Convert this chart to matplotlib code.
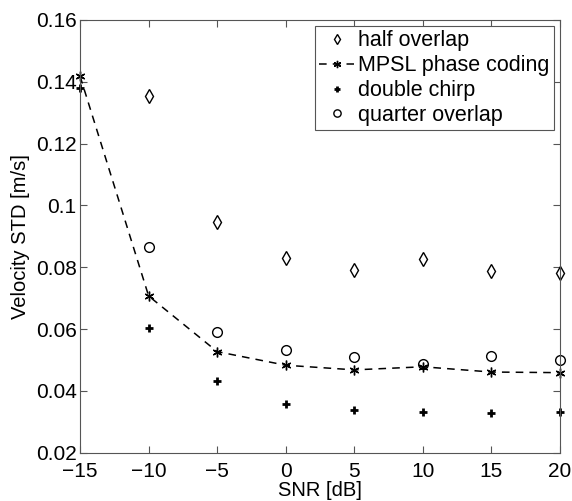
import numpy as np
import matplotlib
matplotlib.use('Agg')
import matplotlib.pyplot as plt

plt.rcParams['font.family'] = ['Liberation Sans', 'DejaVu Sans']

snr = [-15, -10, -5, 0, 5, 10, 15, 20]
half_overlap = [np.nan, 0.1355, 0.0947, 0.0829, 0.0791, 0.0826, 0.0789, 0.0780]
mpsl = [0.1418, 0.0707, 0.0527, 0.0483, 0.0468, 0.0478, 0.0461, 0.0459]
double_chirp = [0.1379, 0.0605, 0.0432, 0.0357, 0.0338, 0.0333, 0.0328, 0.0331]
quarter_overlap = [np.nan, 0.0865, 0.0589, 0.0532, 0.0511, 0.0487, 0.0512, 0.0500]

fig = plt.figure(figsize=(5.72, 5.01), dpi=100)
ax = fig.add_axes([0.14, 0.0964, 0.839, 0.8637])

ax.plot(snr, half_overlap, 'kd', markerfacecolor='none', markersize=7, markeredgewidth=1.0,
        label='half overlap', clip_on=False)
ax.plot(snr, mpsl, 'k--', marker=(6, 2, 0), markersize=7, linewidth=1.1, dashes=(5, 4),
        label='MPSL phase coding', clip_on=False)
ax.plot(snr, double_chirp, 'k+', markersize=6, markeredgewidth=2.0,
        label='double chirp', clip_on=False)
ax.plot(snr, quarter_overlap, 'ko', markerfacecolor='none', markersize=7, markeredgewidth=1.0,
        label='quarter overlap', clip_on=False)

ax.set_xlim(-15, 20)
ax.set_ylim(0.02, 0.16)
ax.set_xticks(range(-15, 21, 5))
ax.set_yticks(np.arange(0.02, 0.161, 0.02))
ax.set_yticklabels(['0.02', '0.04', '0.06', '0.08', '0.1', '0.12', '0.14', '0.16'])
ax.set_xticklabels(['\u221215', '\u221210', '\u22125', '0', '5', '10', '15', '20'])
ax.tick_params(direction='in', top=True, right=True, labelsize=15, length=5, width=0.8,
               colors='#555555', labelcolor='black')
ax.tick_params(axis='x', pad=6.5)
ax.tick_params(axis='y', pad=2.5)
for s in ax.spines.values():
    s.set_color('#555555')
    s.set_linewidth(0.8)

ax.set_xlabel('SNR [dB]', fontsize=14.5, labelpad=0)
ax.set_ylabel('Velocity STD [m/s]', fontsize=14.5, labelpad=4)

# MATLAB-style legend: small markers, short handles
leg = ax.legend(loc='upper right', bbox_to_anchor=(0.987, 0.986), fontsize=15.5,
                handlelength=1.6, handletextpad=0.2, borderpad=0.2, labelspacing=0.18,
                borderaxespad=0, markerscale=0.75, fancybox=False, framealpha=1,
                edgecolor='#555555')
leg.get_frame().set_linewidth(0.8)

fig.savefig('out.png', dpi=100)
